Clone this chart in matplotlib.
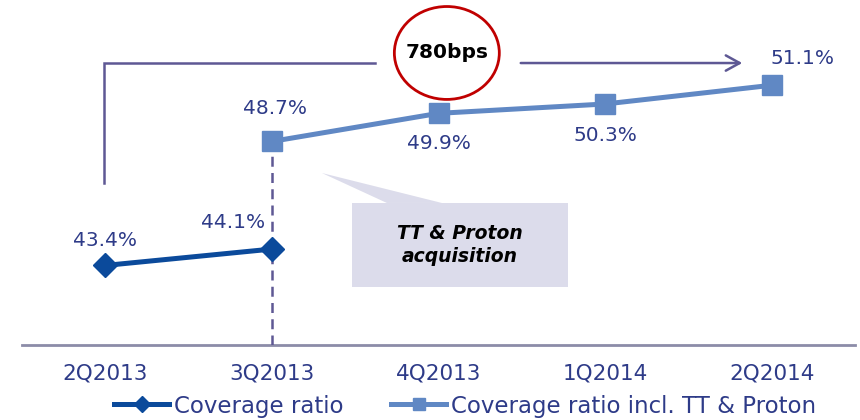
import matplotlib
matplotlib.use("Agg")
import matplotlib.pyplot as plt
from matplotlib.patches import Ellipse, Rectangle, Polygon
import numpy as np

categories = ["2Q2013", "3Q2013", "4Q2013", "1Q2014", "2Q2014"]
coverage = [43.4, 44.1]
coverage_x = [0, 1]
coverage_incl = [48.7, 49.9, 50.3, 51.1]
coverage_incl_x = [1, 2, 3, 4]
labels_cov = ["43.4%", "44.1%"]
labels_incl = ["48.7%", "49.9%", "50.3%", "51.1%"]

DARK = "#0B4A9B"
LIGHT = "#6088C4"
TXT = "#2E3B88"
PURP = "#5E5894"

plt.rcParams['font.family'] = ['DejaVu Sans']
fig = plt.figure(figsize=(8.6, 4.2), dpi=100)
ax = fig.add_axes([22/860, 75/420, 833/860, 345/420])
ax.set_xlim(-0.5, 4.5)
ax.set_ylim(40, 40 + 345/23.4)

ax.plot(coverage_x, coverage, color=DARK, lw=3.6, marker='D', ms=12.5, zorder=4,
        label="Coverage ratio")
ax.plot(coverage_incl_x, coverage_incl, color=LIGHT, lw=3.6, marker='s', ms=14, zorder=4,
        label="Coverage ratio incl. TT & Proton")

# dashed vertical line at 3Q2013
ax.plot([1, 1], [40, coverage_incl[0] - 0.3], color=PURP, lw=1.8, ls=(0, (4, 2.5)), zorder=3)

# data labels (offsets in points)
offs_cov = [(0, 18), (-28, 19)]
offs_incl = [(2, 24), (0, -22), (0, -23), (22, 19)]
for x, y, t, o in zip(coverage_x, coverage, labels_cov, offs_cov):
    ax.annotate(t, (x, y), xytext=o, textcoords='offset points', ha='center', va='center',
                fontsize=14.5, color=TXT)
for x, y, t, o in zip(coverage_incl_x, coverage_incl, labels_incl, offs_incl):
    ax.annotate(t, (x, y), xytext=o, textcoords='offset points', ha='center', va='center',
                fontsize=14.5, color=TXT)

# bracket and arrow
ax.plot([-0.008, -0.008, 1.618], [46.92, 52.05, 52.05], color=PURP, lw=1.8,
        solid_joinstyle='miter', zorder=3)
ax.annotate("", xy=(3.84, 52.05), xytext=(2.477, 52.05),
            arrowprops=dict(arrowstyle="->,head_length=1.0,head_width=0.55", color=PURP, lw=1.8))

# ellipse with text
ax.add_patch(Ellipse((2.05, 52.48), 0.63, 3.97, facecolor='white', edgecolor='#C00000',
                     lw=2, zorder=5))
ax.text(2.05, 52.48, "780bps", ha='center', va='center', fontsize=14.5, fontweight='bold',
        color='black', zorder=6)

# callout box
ax.add_patch(Polygon([(1.30, 47.35), (1.69, 46.07), (2.02, 46.07)], closed=True,
                     facecolor='#DCDCEB', edgecolor='none', zorder=2))
ax.add_patch(Rectangle((1.48, 42.48), 1.296, 3.59, facecolor='#DCDCEB', edgecolor='none', zorder=2))
ax.text(2.13, 44.27, "TT & Proton\nacquisition", ha='center', va='center', fontsize=13.5,
        fontweight='bold', fontstyle='italic', color='black', linespacing=1.25, zorder=3)

# axes styling
for s in ['top', 'right', 'left']:
    ax.spines[s].set_visible(False)
ax.spines['bottom'].set_color('#8C8CA8')
ax.spines['bottom'].set_linewidth(2)
ax.set_yticks([])
ax.set_xticks(range(len(categories)))
ax.set_xticklabels(categories, fontsize=15.5, color=TXT)
ax.tick_params(axis='x', length=0, pad=13)

leg = fig.legend(loc='center', bbox_to_anchor=(465/860, 14/420), ncol=2, frameon=False,
                 fontsize=16.5, handlelength=2.4, handletextpad=0.2, columnspacing=2.1,
                 markerscale=0.65, labelcolor=TXT)

fig.savefig("out.png", dpi=100)
